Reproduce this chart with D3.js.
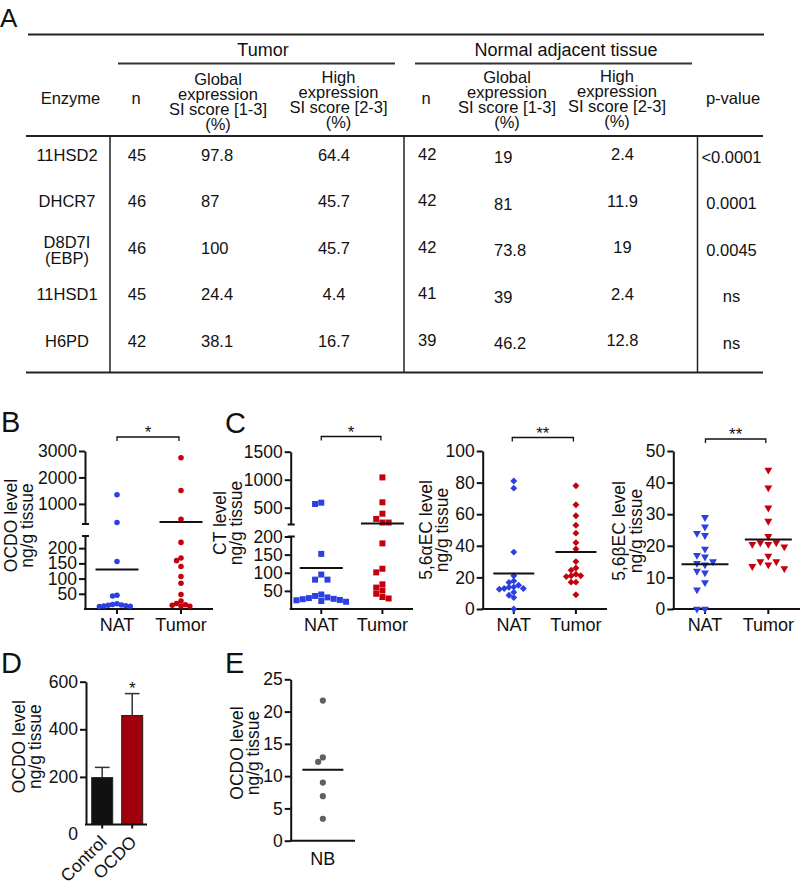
<!DOCTYPE html>
<html><head><meta charset="utf-8">
<script src="https://cdn.jsdelivr.net/npm/d3@7"></script>
<style>
body{margin:0;background:#fff;}
svg{display:block;font-family:"Liberation Sans",Arial,Helvetica,sans-serif;}
</style></head><body>
<svg id="fig" width="802" height="887"></svg>
<script>
// ================= DATA =================
// Panel A table
const enzymes = [["11HSD2"],["DHCR7"],["D8D7I","(EBP)"],["11HSD1"],["H6PD"]];
const tumorN = ["45","46","46","45","42"];
const tumorGlobal = ["97.8","87","100","24.4","38.1"];
const tumorHigh = ["64.4","45.7","45.7","4.4","16.7"];
const natN = ["42","42","42","41","39"];
const natGlobal = ["19","81","73.8","39","46.2"];
const natHigh = ["2.4","11.9","19","2.4","12.8"];
const pValues = ["<0.0001","0.0001","0.0045","ns","ns"];
const groupHeaders = ["Tumor","Normal adjacent tissue"];
const globalHeader = ["Global","expression","SI score [1-3]","(%)"];
const highHeader = ["High","expression","SI score [2-3]","(%)"];

// Panels B / C categories
const catsNT = ["NAT","Tumor"];
// Panel B: OCDO (ng/g tissue)
const ocdoNAT = [1344, 297, 156, 45, 43, 17, 15, 13, 12, 11, 10, 9, 8];
const ocdoTumor = [2744, 1509, 420, 219, 168, 159, 140, 107, 85, 48, 26, 18, 14, 12, 10, 9];
const ocdoMeans = [130, 320];
const ocdoTicksLow = [50,100,150,200], ocdoTicksHigh = [1000,2000,3000];
// Panel C1: CT
const ctNAT = [590, 566, 152, 95, 81, 81, 40, 36, 32, 30, 28, 27, 25, 24, 22, 20];
const ctTumor = [1041, 596, 393, 300, 235, 235, 181, 111, 101, 68, 59, 51, 42, 33, 29];
const ctMeans = [113, 220];
const ctTicksLow = [50,100,150,200], ctTicksHigh = [500,1000,1500];
// Panel C2: 5,6aEC
const aecNAT = [81, 76.5, 36, 21, 17.8, 16.8, 15, 14, 13.7, 13, 13, 12.5, 10.6, 8.7, 7.2, 0];
const aecTumor = [78, 66, 59, 53, 48, 42, 38, 30, 26, 24.6, 22, 21, 21, 20.5, 17, 17, 9];
const aecMeans = [22.5, 36];
const aecTicks = [0,20,40,60,80,100];
// Panel C3: 5,6bEC
const becNAT = [29, 26, 24, 23.3, 19, 17, 16.5, 15, 14.5, 14, 12, 11.5, 8.4, 6.1, 0, 0];
const becTumor = [44, 38.4, 32, 27.8, 23, 21, 20.5, 20.5, 21, 19.7, 16.8, 15, 15, 14, 12.8, 13.5];
const becMeans = [14.2, 22];
const becTicks = [0,10,20,30,40,50];
// Panel D
const dGroups = ["Control","OCDO"];
const dMeans = [197, 458];
const dErr = [43, 92];
const dTicks = [200,400,600];
// Panel E
const eCats = ["NB"];
const eValues = [21.7, 12.9, 12.2, 9.0, 6.9, 3.4];
const eMean = 11.0;
const eTicks = [0,5,10,15,20,25];

// ================= DRAWING =================
const FONT = '"Liberation Sans", Arial, Helvetica, sans-serif';
const BLUE = "#2a40e0", RED = "#c3000b", GREY = "#58625f", DRED = "#a0000e", INK = "#111";
const svg = d3.select("#fig");
svg.append("rect").attr("width",802).attr("height",887).attr("fill","#fff");

function line(g,x1,y1,x2,y2,w,c){
  return g.append("line").attr("x1",x1).attr("y1",y1).attr("x2",x2).attr("y2",y2)
    .attr("stroke",c||INK).attr("stroke-width",w||2);
}
function text(g,x,y,s,size,anchor){
  return g.append("text").attr("x",x).attr("y",y).text(s).attr("font-size",size)
    .attr("text-anchor",anchor||"middle").attr("fill",INK).attr("font-family",FONT);
}
function letter(x,y,s,size){ text(svg,x,y,s,size,"start"); }

// ---------- Panel A: table ----------
letter(0,26.5,"A",26);
const T = svg.append("g");
line(T,28,34.5,764,34.5,2,"#222");
text(T,263,56,groupHeaders[0],18);
text(T,566,56,groupHeaders[1],18);
line(T,118,63.5,395,63.5,2,"#333");
line(T,415,63.5,692,63.5,2,"#333");
text(T,70.5,104,"Enzyme",16.5);
text(T,136,104,"n",16.5);
text(T,426,103.5,"n",16.5);
text(T,733,103.5,"p-value",16.5);
const headCols = [[218,84.5,globalHeader],[338.5,82.5,highHeader],[507,83,globalHeader],[617,81.5,highHeader]];
headCols.forEach(([x,y0,lines])=>lines.forEach((s,i)=>text(T,x,y0+i*15,s,16.5)));
line(T,26,136,763,136,2,"#222");
line(T,26,372.5,763,372.5,2,"#222");
[110,404,697.5].forEach(x=>line(T,x,136,x,372.5,1.5,"#222"));
const rowY = i => 160.5 + i*46.5;
enzymes.forEach((ls,i)=>{
  if(ls.length===1) text(T,67,rowY(i),ls[0],16.5);
  else { text(T,67,rowY(i)-6,ls[0],16.5); text(T,67,rowY(i)+10,ls[1],16.5); }
});
const cols = [
  [tumorN,137,"middle",0],[tumorGlobal,201,"start",0],[tumorHigh,334,"middle",0],
  [natN,418,"start",-1],[natGlobal,494,"start",2.5],[natHigh,622.5,"middle",-0.5],[pValues,731.5,"middle",2]
];
cols.forEach(([vals,x,anc,dy])=>vals.forEach((v,i)=>text(T,x,rowY(i)+dy,v,16.5,anc)));

// ---------- helpers for plots ----------
const TICKFS = 17.5, CATFS = 18, LABFS = 17.5;
function yAxis(g, scale, ticks, x){
  const a = g.append("g").attr("transform",`translate(${x},0)`)
    .call(d3.axisLeft(scale).tickValues(ticks).tickSize(6).tickSizeOuter(0).tickPadding(2).tickFormat(d3.format("d")));
  a.attr("font-family",FONT);
  a.select(".domain").attr("stroke",INK).attr("stroke-width",2);
  a.selectAll(".tick line").attr("stroke",INK).attr("stroke-width",2);
  a.selectAll(".tick text").attr("font-size",TICKFS).attr("fill",INK);
  return a;
}
function breakCap(g,x,y){ line(g,x-3.5,y,x+3.5,y,2); }
function xAxis(g, xs, cats, y, x0, x1, ticks){
  line(g,x0-1,y,x1,y,2);
  cats.forEach(c=>{
    if(ticks!==false) line(g,xs(c),y,xs(c),y+5,2);
  });
}
function catLabels(g, xs, cats, y){
  cats.forEach(c=>text(g,xs(c),y,c,CATFS));
}
function yLabel(g, x1, x2, cy, l1, l2){
  g.append("text").attr("transform",`translate(${x1},${cy}) rotate(-90)`).attr("text-anchor","middle")
   .attr("font-size",LABFS).attr("fill",INK).attr("font-family",FONT).text(l1);
  g.append("text").attr("transform",`translate(${x2},${cy}) rotate(-90)`).attr("text-anchor","middle")
   .attr("font-size",LABFS).attr("fill",INK).attr("font-family",FONT).text(l2);
}
function bracket(g, xa, xb, y, stars){
  g.append("path").attr("d",`M${xa},${y+4}V${y}H${xb}V${y+4}`).attr("fill","none").attr("stroke",INK).attr("stroke-width",1.3);
  text(g,(xa+xb)/2,y+1,stars,17);
}
// simple beeswarm: horizontal offsets computed in pixel space (Euclidean collision)
function swarm(values, yFn, cx, step, minD){
  const order = values.map((v,i)=>i).sort((a,b)=>values[b]-values[a]);
  const placed = [], out = new Array(values.length);
  order.forEach(i=>{
    const y = yFn(values[i]);
    for(let k=0;k<60;k++){
      const off = k===0?0:(k%2? -Math.ceil(k/2) : Math.ceil(k/2))*step;
      const x = cx+off;
      if(!placed.some(p=>Math.hypot(p.x-x,p.y-y)<minD-0.01)){
        placed.push({x,y}); out[i]={x,y}; break;
      }
    }
  });
  return out;
}
function scatter(g, xs, yFn, groups, sym){
  groups.forEach(gr=>{
    const pts = swarm(gr.values, yFn, xs(gr.cat), sym.step, sym.minD);
    const path = d3.symbol().type(sym.type).size(sym.size)();
    g.append("g").selectAll("path").data(pts).join("path")
      .attr("d",path)
      .attr("transform",d=>`translate(${d.x},${d.y}) rotate(${sym.rot||0})`)
      .attr("fill",gr.color);
    const mw = sym.meanW || 43;
    line(g, xs(gr.cat)-mw/2, yFn(gr.mean), xs(gr.cat)+mw/2, yFn(gr.mean), 2);
  });
}

const BASE = 609;

// ---------- Panel B ----------
letter(1,431.5,"B",29);
{
  const g = svg.append("g");
  const ax = 85, x1 = 213;
  const lo = d3.scaleLinear().domain([0,240]).range([BASE,536]);
  const hi = d3.scaleLinear().domain([240,3000]).range([524,451]);
  const yFn = v => v<=240 ? lo(v) : hi(v);
  const xs = d3.scalePoint().domain(catsNT).range([ax,x1]).padding(0.5);
  yAxis(g, lo, ocdoTicksLow, ax); yAxis(g, hi, ocdoTicksHigh, ax);
  breakCap(g,ax+0.5,524); breakCap(g,ax+0.5,536);
  xAxis(g, xs, catsNT, BASE, ax, x1);
  scatter(g, xs, yFn, [
    {cat:"NAT",values:ocdoNAT,mean:ocdoMeans[0],color:BLUE},
    {cat:"Tumor",values:ocdoTumor,mean:ocdoMeans[1],color:RED}],
    {type:d3.symbolCircle,size:24,step:4.4,minD:4.3,meanW:43});
  catLabels(g, xs, catsNT, 631);
  yLabel(g, 16.7, 32.7, 525.5, "OCDO level", "ng/g tissue");
  bracket(g, xs("NAT"), xs("Tumor")-2, 437, "*");
}

// ---------- Panel C1 ----------
letter(225,432.5,"C",29);
{
  const g = svg.append("g");
  const ax = 290.7, x1 = 413;
  const lo = d3.scaleLinear().domain([0,200]).range([BASE,536.5]);
  const hi = d3.scaleLinear().domain([200,1500]).range([524.5,451.7]);
  const yFn = v => v<=200 ? lo(v) : hi(v);
  const xs = d3.scalePoint().domain(catsNT).range([ax,x1]).padding(0.5);
  yAxis(g, lo, ctTicksLow, ax); yAxis(g, hi, ctTicksHigh, ax);
  breakCap(g,ax+0.5,524.5); breakCap(g,ax+0.5,536.5);
  xAxis(g, xs, catsNT, BASE, ax, x1);
  scatter(g, xs, yFn, [
    {cat:"NAT",values:ctNAT,mean:ctMeans[0],color:BLUE},
    {cat:"Tumor",values:ctTumor,mean:ctMeans[1],color:RED}],
    {type:d3.symbolSquare,size:36,step:6.2,minD:6.1,meanW:43});
  catLabels(g, xs, catsNT, 631);
  yLabel(g, 226, 242, 523, "CT level", "ng/g tissue");
  bracket(g, xs("NAT"), xs("Tumor")-1.5, 436.5, "*");
}

// ---------- Panel C2 ----------
{
  const g = svg.append("g");
  const ax = 482.7, x1 = 607;
  const y = d3.scaleLinear().domain([0,100]).range([BASE,451]);
  const xs = d3.scalePoint().domain(catsNT).range([ax,x1]).padding(0.5);
  yAxis(g, y, aecTicks, ax);
  xAxis(g, xs, catsNT, BASE, ax, x1);
  scatter(g, xs, y, [
    {cat:"NAT",values:aecNAT,mean:aecMeans[0],color:BLUE},
    {cat:"Tumor",values:aecTumor,mean:aecMeans[1],color:RED}],
    {type:d3.symbolSquare,size:24,rot:45,step:4.8,minD:4.8,meanW:41});
  catLabels(g, xs, catsNT, 631);
  yLabel(g, 431.7, 447.5, 530, "5,6αEC level", "ng/g tissue");
  bracket(g, xs("NAT")-1.5, xs("Tumor")-2.5, 437.5, "**");
}

// ---------- Panel C3 ----------
{
  const g = svg.append("g");
  const ax = 673.3, x1 = 800;
  const y = d3.scaleLinear().domain([0,50]).range([BASE,451]);
  const xs = d3.scalePoint().domain(catsNT).range([ax,x1]).padding(0.5);
  yAxis(g, y, becTicks, ax);
  xAxis(g, xs, catsNT, BASE, ax, x1);
  scatter(g, xs, y, [
    {cat:"NAT",values:becNAT,mean:becMeans[0],color:BLUE},
    {cat:"Tumor",values:becTumor,mean:becMeans[1],color:RED}],
    {type:d3.symbolTriangle,size:27,rot:180,step:8,minD:7.6,meanW:47});
  catLabels(g, xs, catsNT, 631);
  yLabel(g, 625, 641.5, 531, "5,6βEC level", "ng/g tissue");
  bracket(g, xs("NAT")+0.5, xs("Tumor")-2.5, 439, "**");
}

// ---------- Panel D ----------
letter(1,673,"D",29);
{
  const g = svg.append("g");
  const ax = 86, x1 = 147;
  const y = d3.scaleLinear().domain([0,600]).range([824.5,681.7]);
  const xb = d3.scaleBand().domain(dGroups).range([ax,148.4]).paddingInner(0.3).paddingOuter(0.19);
  yAxis(g, y, dTicks, ax);
  text(g, ax-8, y(0)+9+6, "0", TICKFS, "end");
  dGroups.forEach((c,i)=>{
    const cx = xb(c)+xb.bandwidth()/2;
    line(g,cx,y(dMeans[i]),cx,y(dMeans[i]+dErr[i]),1.5,"#333");
    line(g,cx-xb.bandwidth()*0.35,y(dMeans[i]+dErr[i]),cx+xb.bandwidth()*0.35,y(dMeans[i]+dErr[i]),1.5,"#333");
  });
  g.selectAll("rect.bar").data(dGroups).join("rect")
    .attr("x",c=>xb(c)).attr("width",xb.bandwidth())
    .attr("y",(c,i)=>y(dMeans[i])).attr("height",(c,i)=>y(0)-y(dMeans[i]))
    .attr("fill",(c,i)=>i===0?"#111":DRED).attr("stroke","#222").attr("stroke-width",1);
  const xc = c => xb(c)+xb.bandwidth()/2;
  line(g,ax-1,y(0),x1,y(0),2);
  dGroups.forEach(c=>line(g,xc(c),y(0),xc(c),y(0)+4,2));
  dGroups.forEach(c=>{
    g.append("text").attr("transform",`translate(${xc(c)+5.5},843) rotate(-45)`)
     .attr("text-anchor","end").attr("font-size",17.5).attr("fill",INK).attr("font-family",FONT).text(c);
  });
  text(g, xc("OCDO"), 693.5, "*", 17);
  yLabel(g, 25, 41, 746.7, "OCDO level", "ng/g tissue");
}

// ---------- Panel E ----------
letter(225,673,"E",29);
{
  const g = svg.append("g");
  const ax = 290.7, x1 = 355;
  const y = d3.scaleLinear().domain([0,25]).range([840.7,679.3]);
  const xs = d3.scalePoint().domain(eCats).range([ax,x1]).padding(0.5);
  yAxis(g, y, eTicks, ax);
  line(g,ax-1,y(0),x1,y(0),2);
  scatter(g, xs, y, [{cat:"NB",values:eValues,mean:eMean,color:GREY}],
    {type:d3.symbolCircle,size:30,step:4.7,minD:6,meanW:41});
  catLabels(g, xs, eCats, 864.5);
  yLabel(g, 243, 259, 753, "OCDO level", "ng/g tissue");
}
</script>
</body></html>
